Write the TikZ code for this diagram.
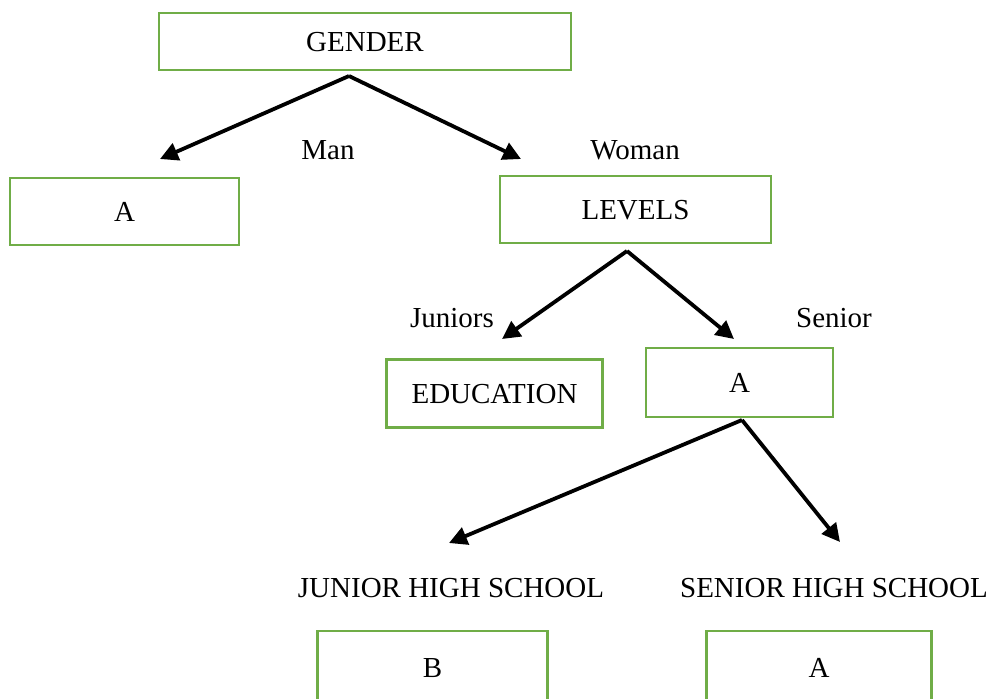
\documentclass[tikz,border=0pt]{standalone}
\usepackage{fontspec}
\setmainfont{Liberation Serif}
\usetikzlibrary{arrows.meta}
\definecolor{boxgreen}{RGB}{112,173,71}

\begin{document}
\begin{tikzpicture}[x=0.5pt, y=-0.5pt,
                    greenbox/.style={rectangle, draw=boxgreen, line width=1.3pt, inner sep=0pt, text depth=0pt, font=\fontsize{14.5}{17}\selectfont},
                    branchtext/.style={inner sep=1pt, font=\fontsize{14.5}{17}\selectfont},
                    branch/.style={-{Triangle[length=9pt, width=9pt]}, line width=1.9pt},
                   ]
    \clip (0,0) rectangle (993,698);

    %Nodes
    \node[greenbox, minimum width=206pt, minimum height=28.5pt]   (gender)   at (365,41.5)   {GENDER};
    \node[greenbox, minimum width=114.5pt, minimum height=33.5pt] (manA)     at (124.5,211.5) {A};
    \node[greenbox, minimum width=135.5pt, minimum height=33.5pt] (levels)   at (635.5,209.5) {LEVELS};
    \node[greenbox, minimum width=108pt, minimum height=34pt]     (educ)     at (494.5,393.5) {EDUCATION};
    \node[greenbox, minimum width=93.5pt, minimum height=34.5pt]  (seniorA)  at (739.5,382.5) {A};
    \node[greenbox, minimum width=115pt, minimum height=37pt]     (jhsB)     at (432.5,668)   {B};
    \node[greenbox, minimum width=112.5pt, minimum height=37pt]   (shsA)     at (819,668)     {A};

    %Branch labels
    \node[branchtext] (man)     at (328,150) {Man};
    \node[branchtext] (woman)   at (635,150) {Woman};
    \node[branchtext] (juniors) at (452,318) {Juniors};
    \node[branchtext] (senior)  at (834,318) {Senior};
    \node[branchtext] (jhs)     at (451,588) {JUNIOR HIGH SCHOOL};
    \node[branchtext] (shs)     at (834,588) {SENIOR HIGH SCHOOL};

    %Arrow ends
    \coordinate (genderFork)  at (349,76);
    \coordinate (manTip)      at (160,159);
    \coordinate (womanTip)    at (521,159);
    \coordinate (levelsFork)  at (627,251);
    \coordinate (juniorsTip)  at (502,339);
    \coordinate (seniorTip)   at (734,339);
    \coordinate (seniorFork)  at (742,420);
    \coordinate (jhsTip)      at (449,543);
    \coordinate (shsTip)      at (840,542);

    %Lines
    \draw[branch] (genderFork) -- (manTip);
    \draw[branch] (genderFork) -- (womanTip);
    \draw[branch] (levelsFork) -- (juniorsTip);
    \draw[branch] (levelsFork) -- (seniorTip);
    \draw[branch] (seniorFork) -- (jhsTip);
    \draw[branch] (seniorFork) -- (shsTip);
\end{tikzpicture}
\end{document}
